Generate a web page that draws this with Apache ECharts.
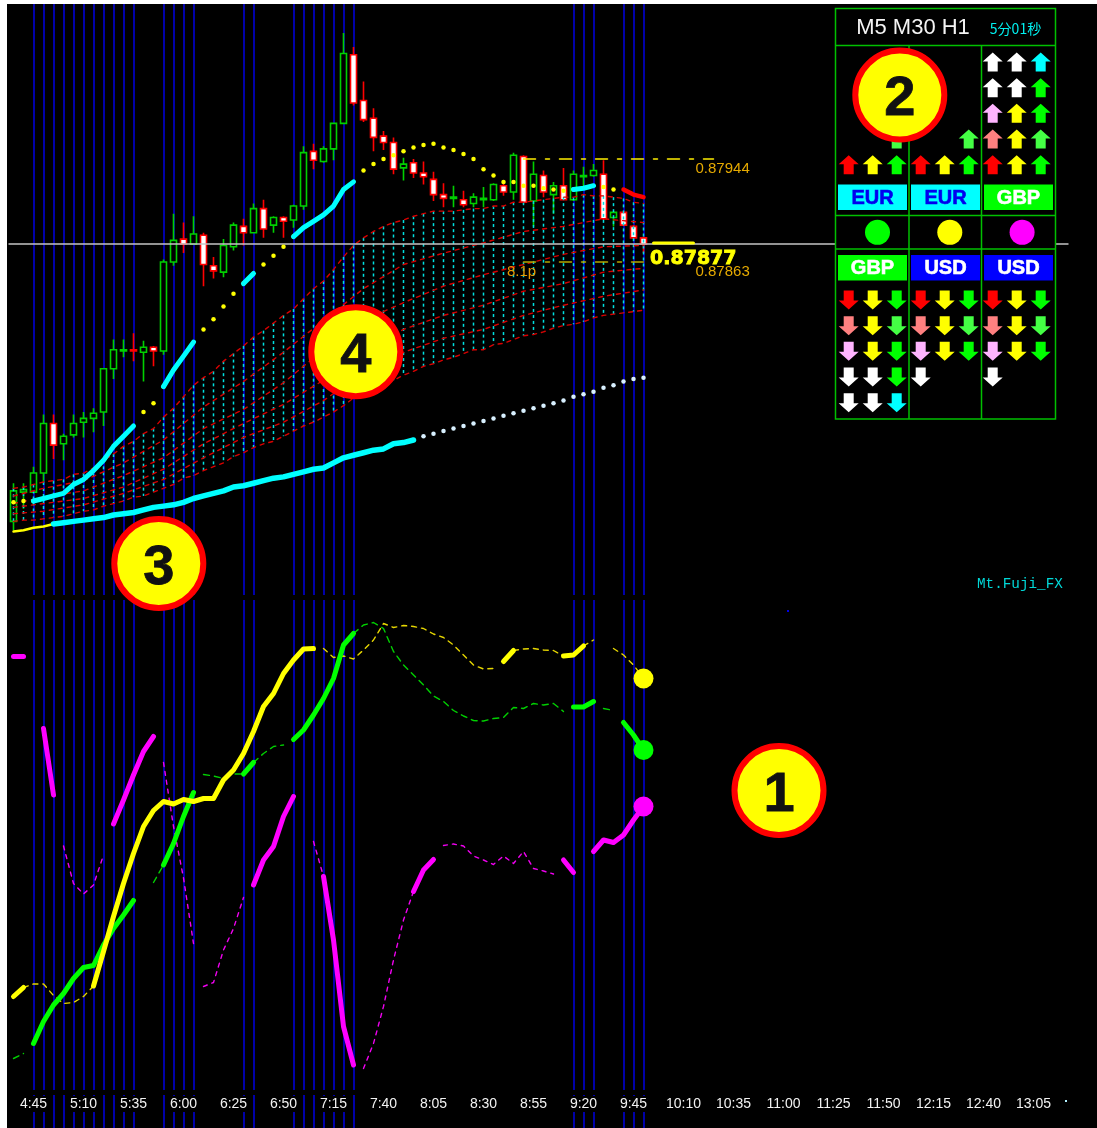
<!DOCTYPE html>
<html>
<head>
<meta charset="utf-8">
<title>Mt.Fuji_FX</title>
<script src="https://cdn.jsdelivr.net/npm/echarts@6/dist/echarts.min.js"></script>
<style>
html, body { margin: 0; padding: 0; background: #fff; overflow: hidden; }
#frame { position: absolute; left: 7px; top: 4px; width: 1090px; height: 1124px; background: #000; }
#chart { position: absolute; left: 0; top: 0; width: 1097px; height: 1128px; }
</style>
</head>
<body>
<div id="frame"></div>
<div id="chart"></div>
<script>
// prices are kept in 0.00001 units (87877 = 0.87877)
const candleOpen = [87659,87682,87682,87697,87736,87720,87727,87737,87740,87745,87779,87793,87794,87792,87796,87793,87863,87881,87877,87884,87860,87855,87875,87891,87886,87905,87892,87898,87896,87907,87950,87942,87952,87972,88026,87990,87976,87962,87957,87937,87941,87933,87928,87916,87913,87912,87909,87912,87912,87923,87918,87946,87911,87931,87916,87923,87912,87930,87931,87932,87898,87902,87891,87882];
const candleClose = [87683,87684,87697,87736,87719,87726,87736,87740,87744,87779,87794,87794,87793,87796,87793,87863,87880,87877,87885,87861,87856,87876,87892,87886,87905,87889,87898,87895,87907,87949,87943,87952,87972,88027,87988,87975,87961,87957,87936,87940,87933,87930,87916,87913,87914,87908,87914,87913,87924,87918,87947,87910,87932,87918,87923,87912,87932,87931,87935,87897,87902,87892,87882,87877];
const candleLow = [87652,87669,87682,87689,87708,87707,87725,87725,87729,87734,87771,87788,87785,87769,87781,87790,87860,87870,87877,87844,87850,87851,87872,87876,87886,87882,87886,87882,87890,87904,87936,87941,87943,87972,87986,87973,87950,87951,87932,87927,87929,87924,87911,87906,87906,87906,87906,87906,87911,87915,87912,87909,87891,87914,87901,87912,87911,87921,87930,87896,87891,87892,87881,87870];
const candleHigh = [87689,87689,87702,87743,87743,87728,87743,87745,87748,87779,87802,87802,87807,87801,87797,87865,87901,87894,87899,87886,87867,87881,87894,87897,87909,87912,87899,87899,87908,87954,87956,87954,87972,88043,88032,88005,87984,87966,87961,87945,87944,87942,87934,87925,87923,87919,87917,87922,87925,87925,87949,87947,87942,87935,87926,87937,87935,87938,87940,87943,87903,87903,87892,87883];

const fastAverage = [87674,87675,87675,87677,87679,87681,87688,87692,87699,87707,87718,87726,87734,87745,87752,87765,87778,87789,87800,87810,87818,87828,87838,87846,87854,87861,87868,87875,87883,87890,87895,87900,87907,87920,87926,87935,87940,87944,87947,87950,87953,87955,87956,87953,87951,87948,87944,87936,87931,87926,87926,87923,87923,87921,87920,87919,87920,87921,87923,87922,87920,87920,87916,87914];
const slowAverage = [87651,87652,87654,87655,87657,87658,87659,87660,87661,87662,87664,87665,87666,87668,87670,87671,87672,87674,87677,87679,87681,87683,87686,87687,87689,87691,87693,87694,87696,87698,87700,87701,87705,87709,87711,87713,87715,87716,87720,87721,87723,87726,87728,87730,87732,87734,87736,87738,87740,87742,87744,87746,87748,87750,87752,87754,87757,87759,87761,87764,87766,87769,87771,87772];

const bandTop = [87685,87686,87688,87690,87691,87692,87696,87697,87701,87707,87712,87718,87722,87728,87732,87741,87748,87757,87766,87772,87777,87785,87791,87797,87804,87809,87815,87821,87826,87834,87842,87848,87857,87867,87876,87882,87887,87891,87894,87896,87899,87901,87903,87903,87903,87904,87905,87905,87907,87907,87910,87910,87911,87912,87913,87914,87914,87916,87915,87915,87914,87913,87910,87909];
const bandBottom = [87659,87660,87660,87661,87662,87663,87665,87667,87668,87671,87673,87675,87678,87679,87682,87685,87688,87693,87695,87699,87702,87705,87710,87713,87717,87720,87722,87726,87730,87734,87737,87741,87745,87750,87756,87761,87765,87768,87770,87774,87777,87781,87783,87786,87788,87791,87794,87794,87798,87799,87802,87805,87806,87808,87811,87813,87814,87816,87819,87821,87822,87823,87824,87825];
// inner band lines, read every few bars
const bandBars = [0,3,7,11,15,19,23,27,31,35,39,43,47,51,55,59,63];
const bandLine2 = [87679,87685,87691,87705,87723,87749,87769,87792,87817,87842,87861,87870,87878,87887,87891,87897,87894];
const bandLine3 = [87673,87678,87683,87695,87709,87732,87747,87768,87794,87817,87831,87844,87853,87861,87869,87875,87876];
const bandLine4 = [87670,87673,87677,87686,87700,87720,87736,87751,87770,87791,87810,87821,87829,87840,87846,87855,87858];
const bandLine5 = [87665,87667,87672,87681,87692,87709,87725,87737,87754,87776,87792,87803,87810,87821,87829,87836,87841];

const highPrice = 87944;
const lowPrice = 87863;
const lastPrice = 87877;

const yellowStrength = [18.7,20.5,21.2,21.2,18.9,17.3,17.5,18.7,20.8,27.7,34.7,41.3,47.3,52.7,55.9,57.7,57.2,58.1,57.7,58.3,58.3,62,64,67.3,71.7,76.7,79.3,83.3,86,88.2,88.3,88.3,86.5,86.8,86.2,88,90,93.3,92.5,92.9,92.7,92.3,91.2,90.5,89,87,85,84.2,84.3,85.7,87.9,88.2,88.3,88,87.9,86.8,87,88.8,90,89.3,88.3,87,85,82.3];
const greenStrength = [6.3,7.3,9.3,13.7,17,19.3,22.3,24.5,24.9,29,32.3,35,37.9,39.8,41.5,45,49.3,54.7,59.5,63.1,62.8,62.3,63.2,63.2,65.5,67.3,68.7,69,70.1,72,75,78.3,82.3,89,91.3,93,93.5,92.3,87.7,85,83,81,78.8,77.7,75.9,74.8,73.9,73.8,74.3,74.5,76.5,76.3,77.3,77,77.3,75.7,76.6,76.6,77.7,76.3,75.9,73.5,71,68];
const magentaStrength = [86.7,86.7,null,72.3,59,48.8,41.3,39.2,41,47,53.2,58,63,67.7,70.7,65.5,52.7,42.4,29.3,20.7,21.5,28,32.3,38.5,41,46,48.7,54.7,58.7,null,49.7,42.7,30,12.7,5,4.3,9.3,16.7,26,34,39.7,44,46.1,48.9,49.2,48.8,46.8,46,45.1,46.8,45.3,47.7,44.3,43.8,43.2,46,43.5,null,47.7,50,49.5,51,54,56.7];

// bar ranges of each line style
const fastCyanRuns = [[2,12],[15,18],[23,24],[28,34],[56,58]];
const fastRedRuns = [[61,63]];
const fastDotRuns = [[0,2],[13,15],[19,23],[25,28],[35,56],[59,60]];
const slowThinRuns = [[0,4]];
const slowThickRuns = [[4,40]];
const slowDotRuns = [[41,63]];
const yellowThick = [[0,1],[8,30],[49,50],[55,57]];
const yellowThin = [[1,8],[31,48],[50,55],[57,58],[60,63]];
const greenThick = [[2,12],[15,18],[23,24],[28,34],[56,58],[61,63]];
const greenThin = [[0,1],[14,15],[19,23],[24,27],[34,55],[59,60]];
const magentaThick = [[0,1],[3,4],[10,14],[24,28],[31,34],[40,42],[55,56],[58,63]];
const magentaThin = [[5,9],[15,18],[19,23],[30,31],[35,40],[43,54]];

const sessionBars = [2,3,4,5,6,7,8,9,10,11,12,15,16,17,18,23,24,28,29,30,31,32,33,34,56,57,58,61,62,63];

// 5 minute bars from 4:35, the axis runs on past the last candle
const timeLabels = [];
for (let i = 0; i < 106; i++) {
  const m = 4 * 60 + 35 + i * 5;
  timeLabels.push(Math.floor(m / 60) + ':' + String(m % 60).padStart(2, '0'));
}

// arrow table, one letter per arrow
const arrowRowsUp = ['......wwc', '......wwg', '......pyg', '..l..lsyl', 'rygrygryg'];
const arrowRowsDown = ['rygrygryg', 'sylsylsyl', 'pygpygpyg', 'wwgw..w..', 'wwc......'];
const arrowColors = { r: '#ff0000', y: '#ffff00', g: '#00ff00', l: '#44ff44', s: '#ff8080', p: '#ffb4ff', w: '#ffffff', c: '#00ffff' };
const pairsTop = ['EUR', 'EUR', 'GBP'];
const pairsBottom = ['GBP', 'USD', 'USD'];
const dotColors = ['#00ff00', '#ffff00', '#ff00ff'];

const GRID_PRICE = 0, GRID_STRENGTH = 1, GRID_STRIP = 2, GRID_UP = 3, GRID_DOWN = 4;

function hiddenAxis(gridIndex, extra) {
  return Object.assign({ gridIndex: gridIndex, show: false }, extra);
}

function pickRun(values, run) {
  return values.map((v, i) => (i >= run[0] && i <= run[1] ? v : null));
}

function lineSeries(grid, data, color, width, dash, z) {
  return {
    type: 'line',
    xAxisIndex: grid,
    yAxisIndex: grid,
    data: data,
    symbol: 'none',
    silent: true,
    z: z,
    lineStyle: { color: color, width: width, type: dash || 'solid', cap: 'round', join: 'round' }
  };
}

function dotSeries(grid, data, color, size, z) {
  return {
    type: 'scatter',
    xAxisIndex: grid,
    yAxisIndex: grid,
    data: data,
    symbolSize: size,
    silent: true,
    z: z,
    itemStyle: { color: color, opacity: 1 }
  };
}

function runs(values, list, color, width, dash, z, grid) {
  return list.map(run => lineSeries(grid, pickRun(values, run), color, width, dash, z));
}

function sessionLines(grid) {
  return {
    type: 'line',
    xAxisIndex: grid,
    yAxisIndex: grid,
    data: [],
    silent: true,
    z: 1,
    markLine: {
      silent: true,
      z: 1,
      symbol: 'none',
      label: { show: false },
      lineStyle: { color: '#0000d4', width: 1.6, type: 'solid', opacity: 1 },
      data: sessionBars.map(i => ({ xAxis: timeLabels[i] }))
    }
  };
}

function arrowSeries(grid, rows, path) {
  const data = [];
  rows.forEach((row, r) => {
    row.split('').forEach((c, col) => {
      if (c !== '.') data.push({ value: [col, r], itemStyle: { color: arrowColors[c], opacity: 1 } });
    });
  });
  return {
    type: 'scatter',
    xAxisIndex: grid,
    yAxisIndex: grid,
    data: data,
    symbol: path,
    symbolSize: [20, 19],
    silent: true,
    z: 20
  };
}

const BAND_RED = '#d80000';

const series = [
  sessionLines(GRID_PRICE),
  sessionLines(GRID_STRENGTH),
  sessionLines(GRID_STRIP),
  {
    type: 'candlestick',
    xAxisIndex: GRID_PRICE,
    yAxisIndex: GRID_PRICE,
    data: candleOpen.map((o, i) => [o, candleClose[i], candleLow[i], candleHigh[i]]),
    barWidth: 6,
    silent: true,
    z: 2,
    itemStyle: { color: '#000', color0: '#fff', borderColor: '#00d000', borderColor0: '#ff0000', borderWidth: 1.6 },
    markLine: {
      silent: true,
      z: 4,
      symbol: 'none',
      label: { show: false },
      lineStyle: { color: '#c4c4c4', width: 1.6, type: 'solid', opacity: 1 },
      data: [{ yAxis: lastPrice }]
    }
  },
  {
    // cyan ticks that hatch the band between top and bottom line
    type: 'custom',
    xAxisIndex: GRID_PRICE,
    yAxisIndex: GRID_PRICE,
    data: bandTop.map((t, i) => [i, t, bandBottom[i]]),
    encode: { x: 0, y: [1, 2] },
    silent: true,
    z: 3,
    renderItem: function (params, api) {
      const a = api.coord([api.value(0), api.value(1)]);
      const b = api.coord([api.value(0), api.value(2)]);
      return {
        type: 'line',
        shape: { x1: a[0], y1: a[1], x2: b[0], y2: b[1] },
        style: { stroke: '#00e0e0', lineWidth: 1.5, lineDash: [3, 3] }
      };
    }
  },
  lineSeries(GRID_PRICE, bandTop.map((v, i) => [i, v]), BAND_RED, 1.4, [4, 5], 3),
  lineSeries(GRID_PRICE, bandBars.map((b, k) => [b, bandLine2[k]]), BAND_RED, 1.4, [4, 5], 3),
  lineSeries(GRID_PRICE, bandBars.map((b, k) => [b, bandLine3[k]]), BAND_RED, 1.4, [4, 5], 3),
  lineSeries(GRID_PRICE, bandBars.map((b, k) => [b, bandLine4[k]]), BAND_RED, 1.4, [4, 5], 3),
  lineSeries(GRID_PRICE, bandBars.map((b, k) => [b, bandLine5[k]]), BAND_RED, 1.4, [4, 5], 3),
  lineSeries(GRID_PRICE, bandBottom.map((v, i) => [i, v]), BAND_RED, 1.4, [4, 5], 3),
  lineSeries(GRID_PRICE, timeLabels.map((t, i) => (i >= 51 && i <= 70 ? highPrice : null)), '#ffee00', 1.5, [12, 10, 4, 10], 4),
  lineSeries(GRID_PRICE, timeLabels.map((t, i) => (i >= 51 && i <= 64 ? lowPrice : null)), '#b4a800', 1.5, [12, 10, 4, 10], 4),
  lineSeries(GRID_PRICE, timeLabels.map((t, i) => (i >= 64 && i <= 68 ? lastPrice + 1 : null)), '#ffff00', 3, 'solid', 4),
  ...fastDotRuns.map(run => dotSeries(GRID_PRICE, pickRun(fastAverage, run), '#ffff00', 4.5, 4)),
  ...runs(fastAverage, fastCyanRuns, '#00ffff', 5, null, 5, GRID_PRICE),
  ...runs(fastAverage, fastRedRuns, '#ff0000', 4.5, null, 5, GRID_PRICE),
  ...runs(slowAverage, slowThinRuns, '#ffff00', 2.5, null, 5, GRID_PRICE),
  ...runs(slowAverage, slowThickRuns, '#00ffff', 5.5, null, 5, GRID_PRICE),
  ...slowDotRuns.map(run => dotSeries(GRID_PRICE, pickRun(slowAverage, run), '#d8f0ff', 4.5, 4)),

  ...runs(yellowStrength, yellowThin, '#e6d600', 1.4, [5, 5], 3, GRID_STRENGTH),
  ...runs(greenStrength, greenThin, '#00d000', 1.4, [6, 5], 3, GRID_STRENGTH),
  ...runs(magentaStrength, magentaThin, '#f000f0', 1.4, [4, 5], 3, GRID_STRENGTH),
  ...runs(magentaStrength, magentaThick, '#ff00ff', 5, null, 4, GRID_STRENGTH),
  ...runs(greenStrength, greenThick, '#00ff00', 5, null, 4, GRID_STRENGTH),
  ...runs(yellowStrength, yellowThick, '#ffff00', 5, null, 5, GRID_STRENGTH),
  dotSeries(GRID_STRENGTH, pickRun(yellowStrength, [63, 63]), '#ffff00', 20, 6),
  dotSeries(GRID_STRENGTH, pickRun(greenStrength, [63, 63]), '#00ff00', 20, 6),
  dotSeries(GRID_STRENGTH, pickRun(magentaStrength, [63, 63]), '#ff00ff', 20, 6),

  arrowSeries(GRID_UP, arrowRowsUp, 'path://M10 0L20 9L15 9L15 19L5 19L5 9L0 9Z'),
  arrowSeries(GRID_DOWN, arrowRowsDown, 'path://M5 0L15 0L15 10L20 10L10 19L0 10L5 10Z')
];

// table on the right and the numbered call-outs
const GREEN_RULE = '#00c000';
const graphicItems = [];

function addText(text, x, y, fill, font, align, z, stroke) {
  const style = { text: text, x: x, y: y, fill: fill, font: font, textAlign: align || 'left', textVerticalAlign: 'middle' };
  if (stroke) {
    style.stroke = fill;
    style.lineWidth = stroke;
  }
  graphicItems.push({ type: 'text', z: z, silent: true, style: style });
}
function addRule(x1, y1, x2, y2) {
  graphicItems.push({
    type: 'line',
    z: 11,
    silent: true,
    shape: { x1: x1, y1: y1, x2: x2, y2: y2 },
    style: { stroke: GREEN_RULE, lineWidth: 1.5 }
  });
}

graphicItems.push({
  type: 'rect',
  z: 10,
  silent: true,
  shape: { x: 835.5, y: 8.5, width: 220, height: 410.5 },
  style: { fill: '#000', stroke: GREEN_RULE, lineWidth: 1.5 }
});
addRule(835.5, 45.5, 1055.5, 45.5);
addRule(835.5, 215.5, 1055.5, 215.5);
addRule(835.5, 249, 1055.5, 249);
addRule(909, 45.5, 909, 419);
addRule(981.5, 45.5, 981.5, 419);
addText('M5 M30 H1', 913, 27.5, '#f4f4f4', '22px "Liberation Sans"', 'center', 12);
addText('5分01秒', 1015.5, 29, '#00f0f0', '14px "Noto Sans CJK JP"', 'center', 12);

const pairBoxX = [838, 911, 984];
const pairColors = { EUR: ['#00ffff', '#0000ee'], GBP: ['#00ff00', '#ffffff'], USD: ['#0000ff', '#ffffff'] };
function addPair(name, x, y) {
  graphicItems.push({
    type: 'rect',
    z: 12,
    silent: true,
    shape: { x: x, y: y, width: 69, height: 25.5 },
    style: { fill: pairColors[name][0] }
  });
  addText(name, x + 34.5, y + 13.5, pairColors[name][1], 'bold 20px "Liberation Sans"', 'center', 13, 0.6);
}
pairsTop.forEach((p, k) => addPair(p, pairBoxX[k], 184.5));
pairsBottom.forEach((p, k) => addPair(p, pairBoxX[k], 255));
dotColors.forEach((c, k) => {
  graphicItems.push({
    type: 'circle',
    z: 12,
    silent: true,
    shape: { cx: 877.5 + k * 72.3, cy: 232.3, r: 12.5 },
    style: { fill: c }
  });
});

addText('0.87944', 695.5, 169, '#e6aa00', '15px "Liberation Sans"', 'left', 8);
addText('0.87863', 695.5, 271.5, '#e6aa00', '15px "Liberation Sans"', 'left', 8);
addText('8.1p', 507, 271.5, '#e89800', '15px "Liberation Sans"', 'left', 8);
addText('0.87877', 650, 259, '#ffff00', 'bold 19px "DejaVu Sans"', 'left', 9, 0.8);
addText('Mt.Fuji_FX', 977, 584, '#00d8d8', '14.3px "Liberation Mono"', 'left', 8);

const callouts = [['1', 779, 790.5], ['2', 899.8, 95], ['3', 158.8, 563.5], ['4', 355.8, 351.7]];
callouts.forEach(c => {
  graphicItems.push({
    type: 'circle',
    z: 50,
    silent: true,
    shape: { cx: c[1], cy: c[2], r: 44.5 },
    style: { fill: '#ffff00', stroke: '#ff0000', lineWidth: 6 }
  });
  addText(c[0], c[1], c[2] + 5, '#111', 'bold 56px "Liberation Sans"', 'center', 51, 0.8);
});
graphicItems.push({ type: 'rect', z: 8, silent: true, shape: { x: 1065, y: 1100, width: 2, height: 2 }, style: { fill: '#b0f0ff' } });
graphicItems.push({ type: 'rect', z: 8, silent: true, shape: { x: 787, y: 610, width: 2, height: 2 }, style: { fill: '#0000e6' } });

const chart = echarts.init(document.getElementById('chart'), null, { renderer: 'canvas' });
chart.setOption({
  animation: false,
  backgroundColor: 'transparent',
  grid: [
    { left: 8.5, top: 4, width: 1060, height: 591 },
    { left: 8.5, top: 600, width: 1060, height: 490 },
    { left: 8.5, top: 1095, width: 1060, height: 33 },
    { left: 836.7, top: 49.2, width: 216, height: 128.3 },
    { left: 836.7, top: 287.2, width: 216, height: 128.3 }
  ],
  xAxis: [
    hiddenAxis(GRID_PRICE, { type: 'category', data: timeLabels }),
    {
      gridIndex: GRID_STRENGTH,
      type: 'category',
      data: timeLabels,
      z: 10,
      axisLine: { show: false },
      axisTick: { show: false },
      splitLine: { show: false },
      axisLabel: {
        color: '#f2f2f2',
        fontFamily: 'Liberation Sans',
        fontSize: 14,
        margin: 6,
        padding: [1, 1],
        backgroundColor: '#000',
        hideOverlap: false,
        interval: function (i) { return (i - 2) % 5 === 0; }
      }
    },
    hiddenAxis(GRID_STRIP, { type: 'category', data: timeLabels }),
    hiddenAxis(GRID_UP, { type: 'category', data: [0,1,2,3,4,5,6,7,8] }),
    hiddenAxis(GRID_DOWN, { type: 'category', data: [0,1,2,3,4,5,6,7,8] })
  ],
  yAxis: [
    hiddenAxis(GRID_PRICE, { type: 'value', min: 87601.1, max: 88065.9 }),
    hiddenAxis(GRID_STRENGTH, { type: 'value', min: 0, max: 98 }),
    hiddenAxis(GRID_STRIP, { type: 'value', min: 0, max: 1 }),
    hiddenAxis(GRID_UP, { type: 'category', data: [0,1,2,3,4], inverse: true }),
    hiddenAxis(GRID_DOWN, { type: 'category', data: [0,1,2,3,4], inverse: true })
  ],
  graphic: { elements: graphicItems },
  series: series
});
</script>
</body>
</html>
